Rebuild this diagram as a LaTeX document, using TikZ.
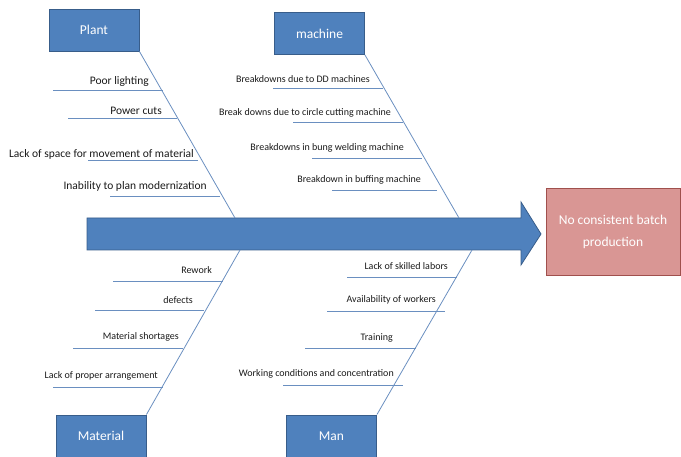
\documentclass[tikz,border=0pt]{standalone}
\usepackage{fontspec}
\setmainfont{Carlito}
\definecolor{boxblue}{HTML}{4F81BD}
\definecolor{boxedge}{HTML}{385D8A}
\definecolor{pinkfill}{HTML}{D99694}
\definecolor{pinkedge}{HTML}{A0504D}
\definecolor{boneline}{HTML}{6A8FC0}
\definecolor{txt}{HTML}{1A1A1A}
\tikzset{
  catbox/.style={draw=boxedge, line width=0.9pt, fill=boxblue, text=white, minimum width=90pt, minimum height=42pt, inner sep=0pt, font=\fontsize{13.5}{15}\selectfont},
  bone/.style={draw=boneline, line width=0.8pt},
  lbl/.style={anchor=east, text=txt, inner sep=0pt, font=\fontsize{10}{12}\selectfont},
  biglbl/.style={lbl, font=\fontsize{11.5}{13}\selectfont}
}
\begin{document}
\begin{tikzpicture}[x=1pt,y=-1pt]
\useasboundingbox (0,0) rectangle (681,457);
% main arrow
\path[fill=boxblue, draw=boxedge, line width=0.8pt]
  (87,218) -- (521,218) -- (521,202) -- (541,234) -- (521,265) -- (521,250) -- (87,250) -- cycle;
\coordinate (pA) at (235,218);
\coordinate (mA) at (459,218);
\coordinate (tA) at (240,250);
\coordinate (nA) at (472,250);
% effect
\node[draw=pinkedge, line width=0.9pt, fill=pinkfill, text=white, minimum width=134pt, minimum height=87pt, inner sep=0pt, align=center, font=\fontsize{13.5}{22}\selectfont] (eff) at (613,231.5) {No consistent batch\\production};
% categories
\node[catbox] (plant) at (94,30) {Plant};
\node[catbox] (mach) at (319.5,33.5) {machine};
\node[catbox] (matl) at (101,436) {Material};
\node[catbox] (man) at (331.5,436) {Man};
% bones
\draw[bone] (plant.south east) -- (pA);
\draw[bone] (mach.south east) -- (mA);
\draw[bone] (matl.north east) -- (tA);
\draw[bone] (man.north east) -- (nA);
% Plant causes
\draw[bone] (53,90) -- (163,90);
\node[biglbl] (p1) at (149,81) {Poor lighting};
\draw[bone] (68,118) -- (177,118);
\node[biglbl] (p2) at (162,111) {Power cuts};
\draw[bone] (88,160) -- (198,160);
\node[biglbl] (p3) at (194,154) {Lack of space for movement of material};
\draw[bone] (110,196) -- (220,196);
\node[biglbl] (p4) at (207,186) {Inability to plan modernization};
% machine causes
\draw[bone] (273,88) -- (383,88);
\node[lbl] (m1) at (370,79) {Breakdowns due to DD machines};
\draw[bone] (293,122) -- (403,122);
\node[lbl] (m2) at (391,113) {Break downs due to circle cutting machine};
\draw[bone] (312,158) -- (422,158);
\node[lbl] (m3) at (404,148) {Breakdowns in bung welding machine};
\draw[bone] (332,190) -- (437,190);
\node[lbl] (m4) at (421,180) {Breakdown in buffing machine};
% Material causes
\draw[bone] (113,281) -- (223,281);
\node[lbl] (t1) at (212,270) {Rework};
\draw[bone] (95,310) -- (204,310);
\node[lbl] (t2) at (193,300) {defects};
\draw[bone] (73,348) -- (183,348);
\node[lbl] (t3) at (179,337) {Material shortages};
\draw[bone] (53,387) -- (163,387);
\node[lbl] (t4) at (158,376) {Lack of proper arrangement};
% Man causes
\draw[bone] (347,277) -- (457,277);
\node[lbl] (n1) at (448,266) {Lack of skilled labors};
\draw[bone] (327,311) -- (445,311);
\node[lbl] (n2) at (436,300) {Availability of workers};
\draw[bone] (305,348) -- (416,348);
\node[lbl] (n3) at (393,338) {Training};
\draw[bone] (283,385) -- (403,385);
\node[lbl] (n4) at (394,374) {Working conditions and concentration};
\end{tikzpicture}
\end{document}
